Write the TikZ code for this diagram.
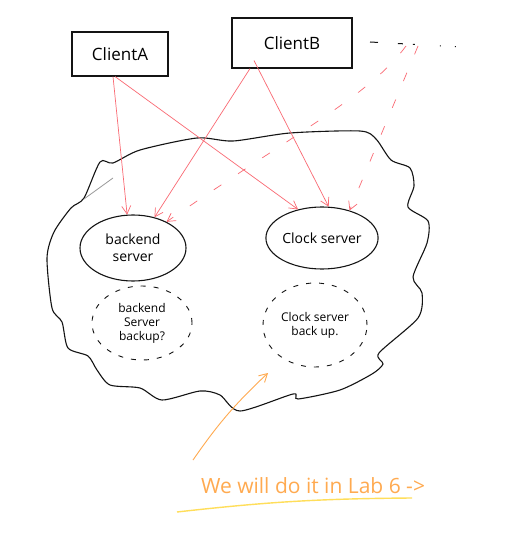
\documentclass[tikz,border=0pt]{standalone}
\usepackage{fontspec}
\setmainfont{Open Sans}
\usetikzlibrary{arrows.meta,calc,shapes.geometric}
\definecolor{pen}{RGB}{20,20,20}
\definecolor{redpen}{RGB}{250,105,115}
\definecolor{orangepen}{RGB}{255,170,80}
\definecolor{yellowpen}{RGB}{255,222,90}
\tikzset{
  clientbox/.style={draw=pen,line width=1.1pt,minimum width=#1,inner sep=0pt,font=\fontsize{17}{20}\selectfont},
  serverell/.style={draw=pen,ellipse,line width=1.1pt,inner sep=0pt,align=center,font=\fontsize{14}{17}\selectfont},
  backupell/.style={draw=pen,ellipse,line width=0.9pt,dash pattern=on 5pt off 8pt,inner sep=0pt,align=center,font=\fontsize{12}{14}\selectfont},
  redarrow/.style={draw=redpen,line width=0.7pt,-{Straight Barb[length=8pt,width=9pt]}},
  reddash/.style={redarrow,dash pattern=on 9pt off 20pt},
}
\begin{document}
\begin{tikzpicture}[x=1pt,y=-1pt]
\useasboundingbox[fill=white] (0,0) rectangle (509,540);
% cloud
\draw[pen,line width=1.1pt] plot[smooth cycle,tension=0.45] coordinates {
 (84,198) (100,162) (113,163) (140,150) (197,138) (233,141) (290,133) (360,131)
 (376,139) (391,160) (410,168) (414,186) (408,207) (428,221) (427,243) (413,277)
 (422,293) (418,318) (379,353) (383,364) (372,374) (340,390) (298,399) (293,394)
 (240,411) (220,395) (200,391) (162,400) (140,388) (110,385) (97,370) (88,356)
 (68,348) (62,322) (52,308) (47,258) (54,232) (71,208)};
\draw[black!40,line width=0.8pt] (84,199) -- (113,178);
% clients
\node[clientbox=96pt,minimum height=44pt] (ca) at (120,54) {ClientA};
\node[clientbox=120pt,minimum height=50pt] (cb) at (292,43) {ClientB};
% servers
\node[serverell,minimum width=106pt,minimum height=66pt] (be) at (133,248) {backend\\server};
\node[serverell,minimum width=108pt,minimum height=62pt] (cs) at (322,238) {Clock server};
\node[backupell,minimum width=100pt,minimum height=74pt] (bb) at (142,323) {backend\\Server\\backup?};
\node[backupell,minimum width=104pt,minimum height=84pt] (cbk) at (315,325) {Clock server\\back up.};
% trailing dots
\coordinate (dotsA) at (370,42);
\coordinate (dotsB) at (462,47);
\draw[pen,line width=1pt,dash pattern=on 8pt off 20pt on 5pt off 10pt on 2pt off 25pt on 1pt off 14pt on 1pt off 20pt] (dotsA) -- (dotsB);
% red arrows
\draw[redarrow] ([xshift=-7pt]ca.south) -- (be.100);
\draw[redarrow] ([xshift=-5pt]ca.south) -- (cs.130);
\draw[redarrow] ([xshift=-42pt]cb.south) -- (be.55);
\draw[redarrow] ([xshift=-38pt,yshift=8pt]cb.south) -- (cs.78);
\coordinate (d1) at (406,46);
\coordinate (d2) at (418,46);
\draw[reddash] (d1) .. controls (370,95) and (300,130) .. (be.38);
\draw[reddash] (d2) -- (cs.45);
% orange note
\node[text=orangepen,font=\fontsize{21}{24}\selectfont] (note) at (313,486) {We will do it in Lab 6 ->};
\coordinate (tail) at (193,460);
\draw[orangepen,line width=0.9pt,-{Straight Barb[length=8pt,width=9pt]}] (tail) to[bend left=6] (268,373);
\coordinate (u1) at (177,512);
\coordinate (u2) at (412,498);
\draw[yellowpen,line width=1.4pt] (u1) to[bend left=3] (u2);
\end{tikzpicture}
\end{document}
